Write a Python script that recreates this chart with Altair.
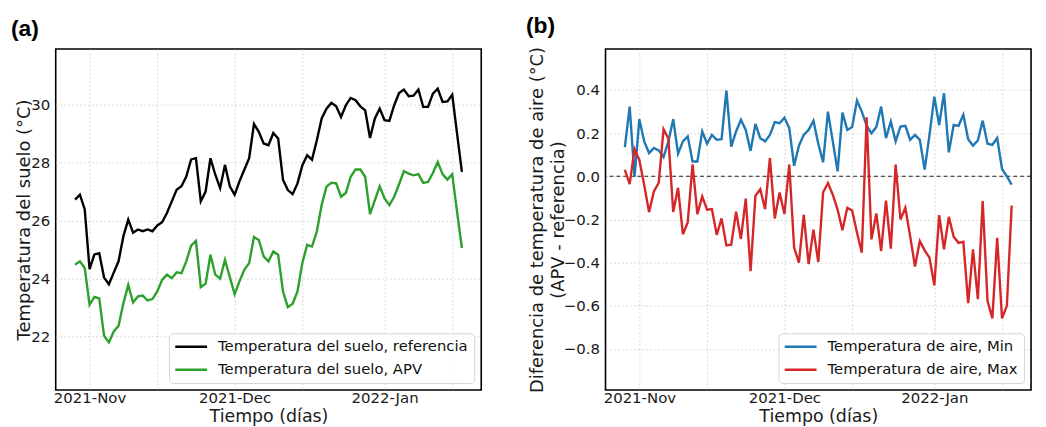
import altair as alt
import pandas as pd

# ---------------- data ----------------
fecha_inicio = "2021-10-29"
n_dias = 81
fechas = pd.date_range(fecha_inicio, periods=n_dias, freq="D").strftime("%Y-%m-%d").tolist()

suelo_ref = [26.72, 26.89, 26.38, 24.32, 24.83, 24.87, 24.03, 23.80, 24.20, 24.60,
             25.46, 26.03, 25.58, 25.69, 25.63, 25.69, 25.63, 25.83, 25.94, 26.26,
             26.66, 27.06, 27.18, 27.52, 28.11, 28.15, 26.66, 27.00, 28.15, 27.58,
             27.12, 27.92, 27.18, 26.89, 27.35, 27.75, 28.15, 29.33, 29.06, 28.66,
             28.60, 29.02, 28.83, 27.41, 27.05, 26.91, 27.28, 27.90, 28.25, 28.10,
             28.77, 29.52, 29.86, 30.06, 29.94, 29.57, 29.98, 30.23, 30.15, 29.94,
             29.80, 28.85, 29.52, 29.86, 29.46, 29.44, 29.98, 30.40, 30.52, 30.29,
             30.31, 30.52, 29.92, 29.92, 30.38, 30.55, 30.09, 30.11, 30.34, 29.00,
             27.68]

suelo_apv = [24.47, 24.59, 24.36, 23.09, 23.36, 23.31, 22.02, 21.79, 22.17, 22.37,
             23.15, 23.78, 23.17, 23.38, 23.41, 23.24, 23.29, 23.55, 23.95, 24.13,
             24.01, 24.21, 24.18, 24.59, 25.13, 25.30, 23.70, 23.82, 24.82, 24.13,
             23.99, 24.64, 24.05, 23.46, 23.90, 24.30, 24.53, 25.43, 25.33, 24.76,
             24.59, 24.93, 24.82, 23.55, 23.01, 23.13, 23.55, 24.53, 25.16, 25.10,
             25.62, 26.54, 27.17, 27.30, 27.28, 26.82, 26.95, 27.51, 27.76, 27.76,
             27.51, 26.22, 26.70, 27.18, 26.76, 26.53, 26.82, 27.25, 27.70, 27.62,
             27.56, 27.60, 27.30, 27.33, 27.64, 28.02, 27.60, 27.41, 27.60, 26.30,
             25.05]

aire_min = [0.135, 0.323, -0.003, 0.265, 0.162, 0.108, 0.131, 0.120, 0.089, 0.162,
            0.265, 0.105, 0.162, 0.185, 0.069, 0.069, 0.208, 0.151, 0.192, 0.169,
            0.172, 0.397, 0.138, 0.208, 0.262, 0.215, 0.118, 0.243, 0.177, 0.162,
            0.192, 0.251, 0.246, 0.272, 0.223, 0.049, 0.142, 0.192, 0.215, 0.258,
            0.151, 0.065, 0.300, 0.162, 0.023, 0.295, 0.215, 0.228, 0.351, 0.300,
            0.234, 0.200, 0.228, 0.323, 0.177, 0.254, 0.162, 0.231, 0.234, 0.169,
            0.192, 0.169, 0.031, 0.192, 0.369, 0.238, 0.385, 0.111, 0.238, 0.234,
            0.285, 0.172, 0.142, 0.166, 0.258, 0.151, 0.146, 0.177, 0.034, 0.000,
            -0.038]

aire_max = [0.030, -0.036, 0.126, 0.075, -0.040, -0.166, -0.070, -0.030, 0.218, 0.175,
            -0.165, -0.053, -0.268, -0.214, 0.055, -0.175, -0.093, -0.155, -0.152, -0.271,
            -0.195, -0.320, -0.317, -0.164, -0.290, -0.103, -0.440, -0.090, -0.060, -0.152,
            0.085, -0.195, -0.075, -0.175, 0.055, -0.330, -0.400, -0.178, -0.407, -0.247,
            -0.397, -0.074, -0.031, -0.085, -0.154, -0.250, -0.146, -0.158, -0.260, -0.354,
            0.274, -0.292, -0.172, -0.346, -0.112, -0.335, 0.054, -0.200, -0.146, -0.277,
            -0.418, -0.300, -0.343, -0.377, -0.505, -0.180, -0.338, -0.188, -0.280, -0.308,
            -0.303, -0.588, -0.338, -0.569, -0.115, -0.577, -0.658, -0.285, -0.658, -0.600,
            -0.135]

serie_a = ["Temperatura del suelo, referencia", "Temperatura del suelo, APV"]
color_a = ["#000000", "#2ca02c"]
serie_b = ["Temperatura de aire, Min", "Temperatura de aire, Max"]
color_b = ["#1f77b4", "#d62728"]

ticks_a = [22, 24, 26, 28, 30]
ticks_b = [-0.8, -0.6, -0.4, -0.2, 0.0, 0.2, 0.4]

df_a = pd.DataFrame({
    "fecha": fechas * 2,
    "valor": suelo_ref + suelo_apv,
    "serie": [serie_a[0]] * n_dias + [serie_a[1]] * n_dias,
})
df_b = pd.DataFrame({
    "fecha": fechas * 2,
    "valor": aire_min + aire_max,
    "serie": [serie_b[0]] * n_dias + [serie_b[1]] * n_dias,
})
df_cero = pd.DataFrame({"valor": [0.0]})

# ---------------- shared pieces ----------------
W, H = 428, 343
FONT = "DejaVu Sans"

def dt(y, m, d):
    return alt.DateTime(year=y, month=m, date=d, utc=True)

x_enc = alt.X(
    "fecha:T",
    scale=alt.Scale(type="utc", domain=[dt(2021, 10, 25), dt(2022, 1, 21)]),
    axis=alt.Axis(
        values=[dt(2021, 11, 1), dt(2021, 11, 15), dt(2021, 12, 1),
                dt(2021, 12, 15), dt(2022, 1, 1), dt(2022, 1, 15)],
        labelExpr="utcdate(datum.value) == 1 ? utcFormat(datum.value, '%Y-%b') : ''",
        title="Tiempo (días)",
        titleFontSize=17.5,
        titleX=W / 2,
        titleY=32,
        titleBaseline="alphabetic",
        labelPadding=1,
    ),
)

def legend():
    return alt.Legend(
        title=None, orient="bottom-right", offset=7,
        symbolType="M-3.2,0H3.2", symbolSize=100, symbolStrokeWidth=2.5,
        symbolOffset=8.8, labelOffset=19.6,
        labelFont=FONT, labelFontSize=14.9, labelColor="#111111", labelLimit=400,
        padding=6, rowPadding=7.1,
        fillColor="rgba(255,255,255,0.85)", strokeColor="#d6d6d6", cornerRadius=4,
    )

def panel_title(txt, dx, off):
    return alt.TitleParams(
        txt, anchor="start", frame="group", dx=dx, offset=off,
        fontSize=23, font="Liberation Sans", fontWeight="bold",
        baseline="alphabetic", color="#000000",
    )

# ---------------- panel (a) ----------------
y_a = alt.Y(
    "valor:Q",
    scale=alt.Scale(domain=[20.15, 31.92], nice=False, zero=False),
    axis=alt.Axis(values=ticks_a, title="Temperatura del suelo (°C)",
                  titleFontSize=18, titleX=-26, titleY=H / 2,
                  titleAlign="center", titleBaseline="alphabetic", titleAngle=270,
                  labelPadding=6),
)
panel_a = alt.Chart(df_a).mark_line(strokeWidth=2.4).encode(
    x=x_enc,
    y=y_a,
    color=alt.Color("serie:N", scale=alt.Scale(domain=serie_a, range=color_a), legend=legend()),
).properties(width=W, height=H, title=panel_title("(a)", -45, -10))

# ---------------- panel (b) ----------------
y_b = alt.Y(
    "valor:Q",
    scale=alt.Scale(domain=[-0.99, 0.59], nice=False, zero=False),
    axis=alt.Axis(values=ticks_b, format=".1f",
                  title=["Diferencia de temperatura de aire (°C)", "(APV - referencia)"],
                  titleFontSize=18, titleLineHeight=21, titleX=-63, titleY=H / 2,
                  titleAlign="center", titleBaseline="alphabetic", titleAngle=270,
                  labelPadding=6),
)
cero = alt.Chart(df_cero).mark_rule(color="#222222", strokeDash=[4, 3], strokeWidth=1.1).encode(y=y_b)
lineas_b = alt.Chart(df_b).mark_line(strokeWidth=2.4).encode(
    x=x_enc,
    y=y_b,
    color=alt.Color("serie:N", scale=alt.Scale(domain=serie_b, range=color_b), legend=legend()),
)
panel_b = alt.layer(cero, lineas_b).properties(width=W, height=H, title=panel_title("(b)", -80, -10))

chart = alt.hconcat(panel_a, panel_b, spacing=125, bounds="flush").resolve_scale(
    color="independent", y="independent"
).properties(
    padding={"left": 2, "top": 5, "right": 5, "bottom": 0},
    background="white",
).configure_view(
    stroke="#000000", strokeWidth=1.6, fill="white"
).configure_axis(
    grid=True, gridColor="#cfcfcf", gridDash=[2, 2], gridWidth=0.8,
    domain=False, ticks=False,
    labelFont=FONT, labelFontSize=15, labelColor="#1a1a1a",
    titleFont=FONT, titleFontWeight="normal", titleColor="#1a1a1a",
)

chart.save("out.html", embed_options={"renderer": "svg", "actions": False})
